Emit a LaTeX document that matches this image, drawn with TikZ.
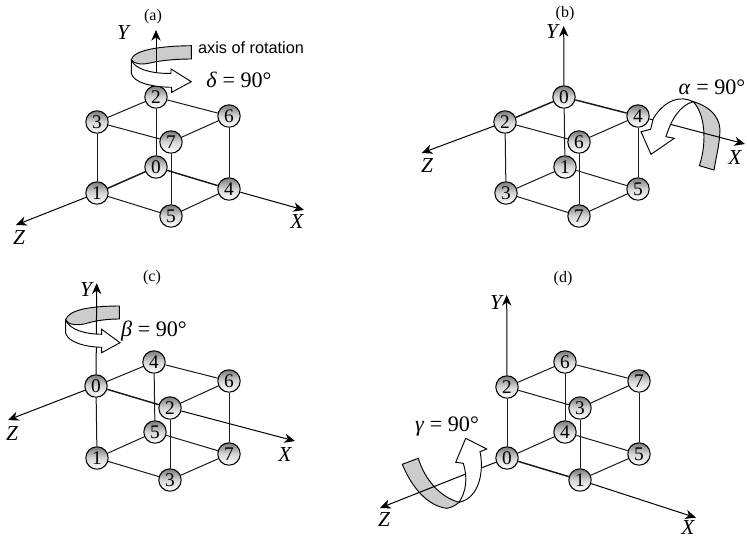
\documentclass[tikz,border=0pt]{standalone}
\usepackage{fontspec}
\setmainfont{Liberation Serif}
\newfontfamily\sansf{Liberation Sans}
\usetikzlibrary{arrows.meta}
\definecolor{ribbongray}{gray}{0.8}
\tikzset{
  x=0.75pt,y=-0.75pt,
  ball/.style={circle,draw=black,line width=0.8pt,inner sep=0pt,minimum size=16.8pt,
    top color=black!52,bottom color=white,middle color=black!16,font=\fontsize{14.5}{14.5}\selectfont},
  edgeline/.style={line width=0.75pt,draw=black!90},
  heavy/.style={line width=1.1pt,draw=black!90},
  axisline/.style={line width=0.75pt,draw=black,-{Stealth[length=8pt,width=7pt,inset=2.5pt]}},
  plainaxis/.style={line width=0.75pt,draw=black},
  axislabel/.style={font=\fontsize{16}{16}\selectfont\itshape,inner sep=0pt},
  panel/.style={font=\fontsize{12}{12}\selectfont,inner sep=0pt},
  anglelabel/.style={font=\fontsize{16.6}{16.6}\selectfont,inner sep=0pt},
  grayband/.style={draw=black,line width=0.7pt,fill=ribbongray},
  whiteband/.style={draw=black,line width=0.7pt,fill=white},
}
\begin{document}
\begin{tikzpicture}
\useasboundingbox (0,0) rectangle (747,539);
% ---------- panel a
\node[ball] (a2) at (156,97) {2};
\node[ball] (a3) at (97,122) {3};
\node[ball] (a6) at (229,116) {6};
\node[ball] (a7) at (171,142) {7};
\node[ball] (a0) at (156,167) {0};
\node[ball] (a1) at (97,193) {1};
\node[ball] (a4) at (229,189) {4};
\node[ball] (a5) at (171,216) {5};
\foreach \p/\q in {a2/a3,a2/a6,a3/a7,a6/a7,a2/a0,a3/a1,a6/a4,a7/a5,a1/a5,a4/a5}
  \draw[edgeline] (\p) -- (\q);
\draw[heavy] (a0) -- (a1);
\draw[heavy] (a0) -- (a4);
\coordinate (aZ) at (16,225);
\coordinate (aX) at (304,210);
\coordinate (aY) at (156,30);
\coordinate (aYs) at (156,72);
\draw[axisline] (a1) -- (aZ);
\draw[axisline] (a4) -- (aX);
\draw[grayband] (191.3,45.7) .. controls (160,46) and (133,50) .. (131.3,60)
  .. controls (134,64) and (142,65) .. (150,63) .. controls (163,60) and (178,59) .. (191.3,59) -- cycle;
\draw[whiteband] (131.3,60) -- (131.3,73.3) .. controls (133,82) and (150,87) .. (171.7,87.3)
  -- (171.7,92.3) -- (191.3,81.7) -- (171,69) -- (171,73.3)
  .. controls (155,74) and (135,70) .. (131.3,60) -- cycle;
\draw[axisline] (aYs) -- (aY);
\node[panel] (alab) at (153,17) {(a)};
\node[axislabel] (aYl) at (123,33) {Y};
\node[axislabel] (aZl) at (19,238) {Z};
\node[axislabel] (aXl) at (297,222) {X};
\node[inner sep=0pt,font=\fontsize{12.2}{12.2}\sansf] (arot) at (251,48) {axis of rotation};
\node[anglelabel] (adelta) at (239,80) {\textit{δ} = 90°};
% ---------- panel b
\node[ball] (b0) at (564,97) {0};
\node[ball] (b2) at (505,122) {2};
\node[ball] (b4) at (638,116) {4};
\node[ball] (b6) at (579,142) {6};
\node[ball] (b1) at (565,167) {1};
\node[ball] (b3) at (506,193) {3};
\node[ball] (b5) at (638,189) {5};
\node[ball] (b7) at (579,216) {7};
\foreach \p/\q in {b2/b6,b4/b6,b0/b1,b2/b3,b4/b5,b6/b7,b1/b3,b1/b5,b3/b7,b5/b7}
  \draw[edgeline] (\p) -- (\q);
\draw[heavy] (b0) -- (b2);
\draw[heavy] (b0) -- (b4);
\coordinate (bY) at (563.7,26);
\coordinate (bZ) at (421.7,153);
\coordinate (bX) at (745,144);
\coordinate (bXs) at (673,125);
\draw[axisline] (b0) -- (bY);
\draw[axisline] (b2) -- (bZ);
\draw[plainaxis] (b4) -- (bXs);
\draw[grayband] (693.3,101.7) .. controls (712,107) and (722,120) .. (719.7,135)
  .. controls (719,146) and (716,158) .. (714,170) -- (699.3,165.7)
  .. controls (705,150) and (708,118) .. (693.3,101.7) -- cycle;
\draw[whiteband] (693.3,101.7) .. controls (680,95) and (665,100) .. (653.3,118.3)
  -- (650.7,129.3) -- (641,131.7) -- (651,154.3) -- (674.3,138.3) -- (666,136.7)
  .. controls (671,120) and (680,105) .. (693.3,101.7) -- cycle;
\draw[axisline] (bXs) -- (bX);
\node[panel] (blab) at (565,14) {(b)};
\node[axislabel] (bYl) at (552,32) {Y};
\node[axislabel] (bZl) at (427,166) {Z};
\node[axislabel] (bXl) at (735,158) {X};
\node[anglelabel] (balpha) at (712,87) {\textit{α} = 90°};
% ---------- panel c
\node[ball] (c4) at (154,362) {4};
\node[ball] (c0) at (96,386) {0};
\node[ball] (c6) at (229,381) {6};
\node[ball] (c2) at (170,408) {2};
\node[ball] (c5) at (155,432) {5};
\node[ball] (c1) at (97,458) {1};
\node[ball] (c7) at (229,454) {7};
\node[ball] (c3) at (170,480) {3};
\foreach \p/\q in {c0/c4,c4/c6,c2/c6,c4/c5,c0/c1,c2/c3,c6/c7,c1/c5,c5/c7,c1/c3,c3/c7}
  \draw[edgeline] (\p) -- (\q);
\draw[heavy] (c0) -- (c2);
\coordinate (cY) at (96.7,283.3);
\coordinate (cYs) at (96.4,333);
\coordinate (cZ) at (8,420);
\coordinate (cX) at (295,441);
\draw[plainaxis] (c0) -- (cYs);
\draw[axisline] (c0) -- (cZ);
\draw[axisline] (c2) -- (cX);
\draw[grayband] (119.3,306) .. controls (90,306) and (68,310) .. (65.7,320)
  .. controls (68,325) and (78,326) .. (88,323) .. controls (98,320) and (110,319) .. (119.3,319) -- cycle;
\draw[whiteband] (65.7,320) -- (65.7,333.3) .. controls (68,342) and (85,347) .. (101.7,347.3)
  -- (101.7,352.7) -- (120,342.7) -- (101.7,329.3) -- (101.7,334.3)
  .. controls (85,334) and (70,330) .. (65.7,320) -- cycle;
\draw[axisline] (cYs) -- (cY);
\node[panel] (clab) at (152,278) {(c)};
\node[axislabel] (cYl) at (86,290) {Y};
\node[axislabel] (cZl) at (12,434) {Z};
\node[axislabel] (cXl) at (285,455) {X};
\node[anglelabel] (cbeta) at (154,331) {\textit{β} = 90°};
% ---------- panel d
\node[ball] (d6) at (565,362) {6};
\node[ball] (d2) at (507,387) {2};
\node[ball] (d7) at (639,381) {7};
\node[ball] (d3) at (580,408) {3};
\node[ball] (d4) at (565,432) {4};
\node[ball] (d0) at (507,458) {0};
\node[ball] (d5) at (639,454) {5};
\node[ball] (d1) at (580,480) {1};
\foreach \p/\q in {d2/d6,d6/d7,d2/d3,d3/d7,d6/d4,d2/d0,d3/d1,d7/d5,d0/d4,d4/d5,d1/d5}
  \draw[edgeline] (\p) -- (\q);
\draw[heavy] (d0) -- (d1);
\coordinate (dY) at (506.7,295);
\coordinate (dZ) at (380,508);
\coordinate (dX) at (696,517.7);
\coordinate (dZs) at (465.7,474);
\draw[axisline] (d2) -- (dY);
\draw[axisline] (d1) -- (dX);
\draw[plainaxis] (d0) -- (dZs);
\draw[grayband] (402.3,464.3) -- (418.3,458.3) .. controls (425,480) and (440,497) .. (459,502.3)
  .. controls (455,506) and (450,508) .. (446.7,508.3) .. controls (428,506) and (412,488) .. (402.3,464.3) -- cycle;
\draw[whiteband] (459,502.3) .. controls (466,492) and (468,478) .. (463.3,463.3)
  -- (455.7,462.3) -- (465.7,438.3) -- (486.7,449) -- (480,451.7)
  .. controls (484,470) and (480,498) .. (459,502.3) -- cycle;
\draw[axisline] (dZs) -- (dZ);
\node[panel] (dlab) at (563,279) {(d)};
\node[axislabel] (dYl) at (496,303) {Y};
\node[axislabel] (dZl) at (384,520) {Z};
\node[axislabel] (dXl) at (688,528) {X};
\node[anglelabel] (dgamma) at (447,426) {\textit{γ} = 90°};
\end{tikzpicture}
\end{document}
